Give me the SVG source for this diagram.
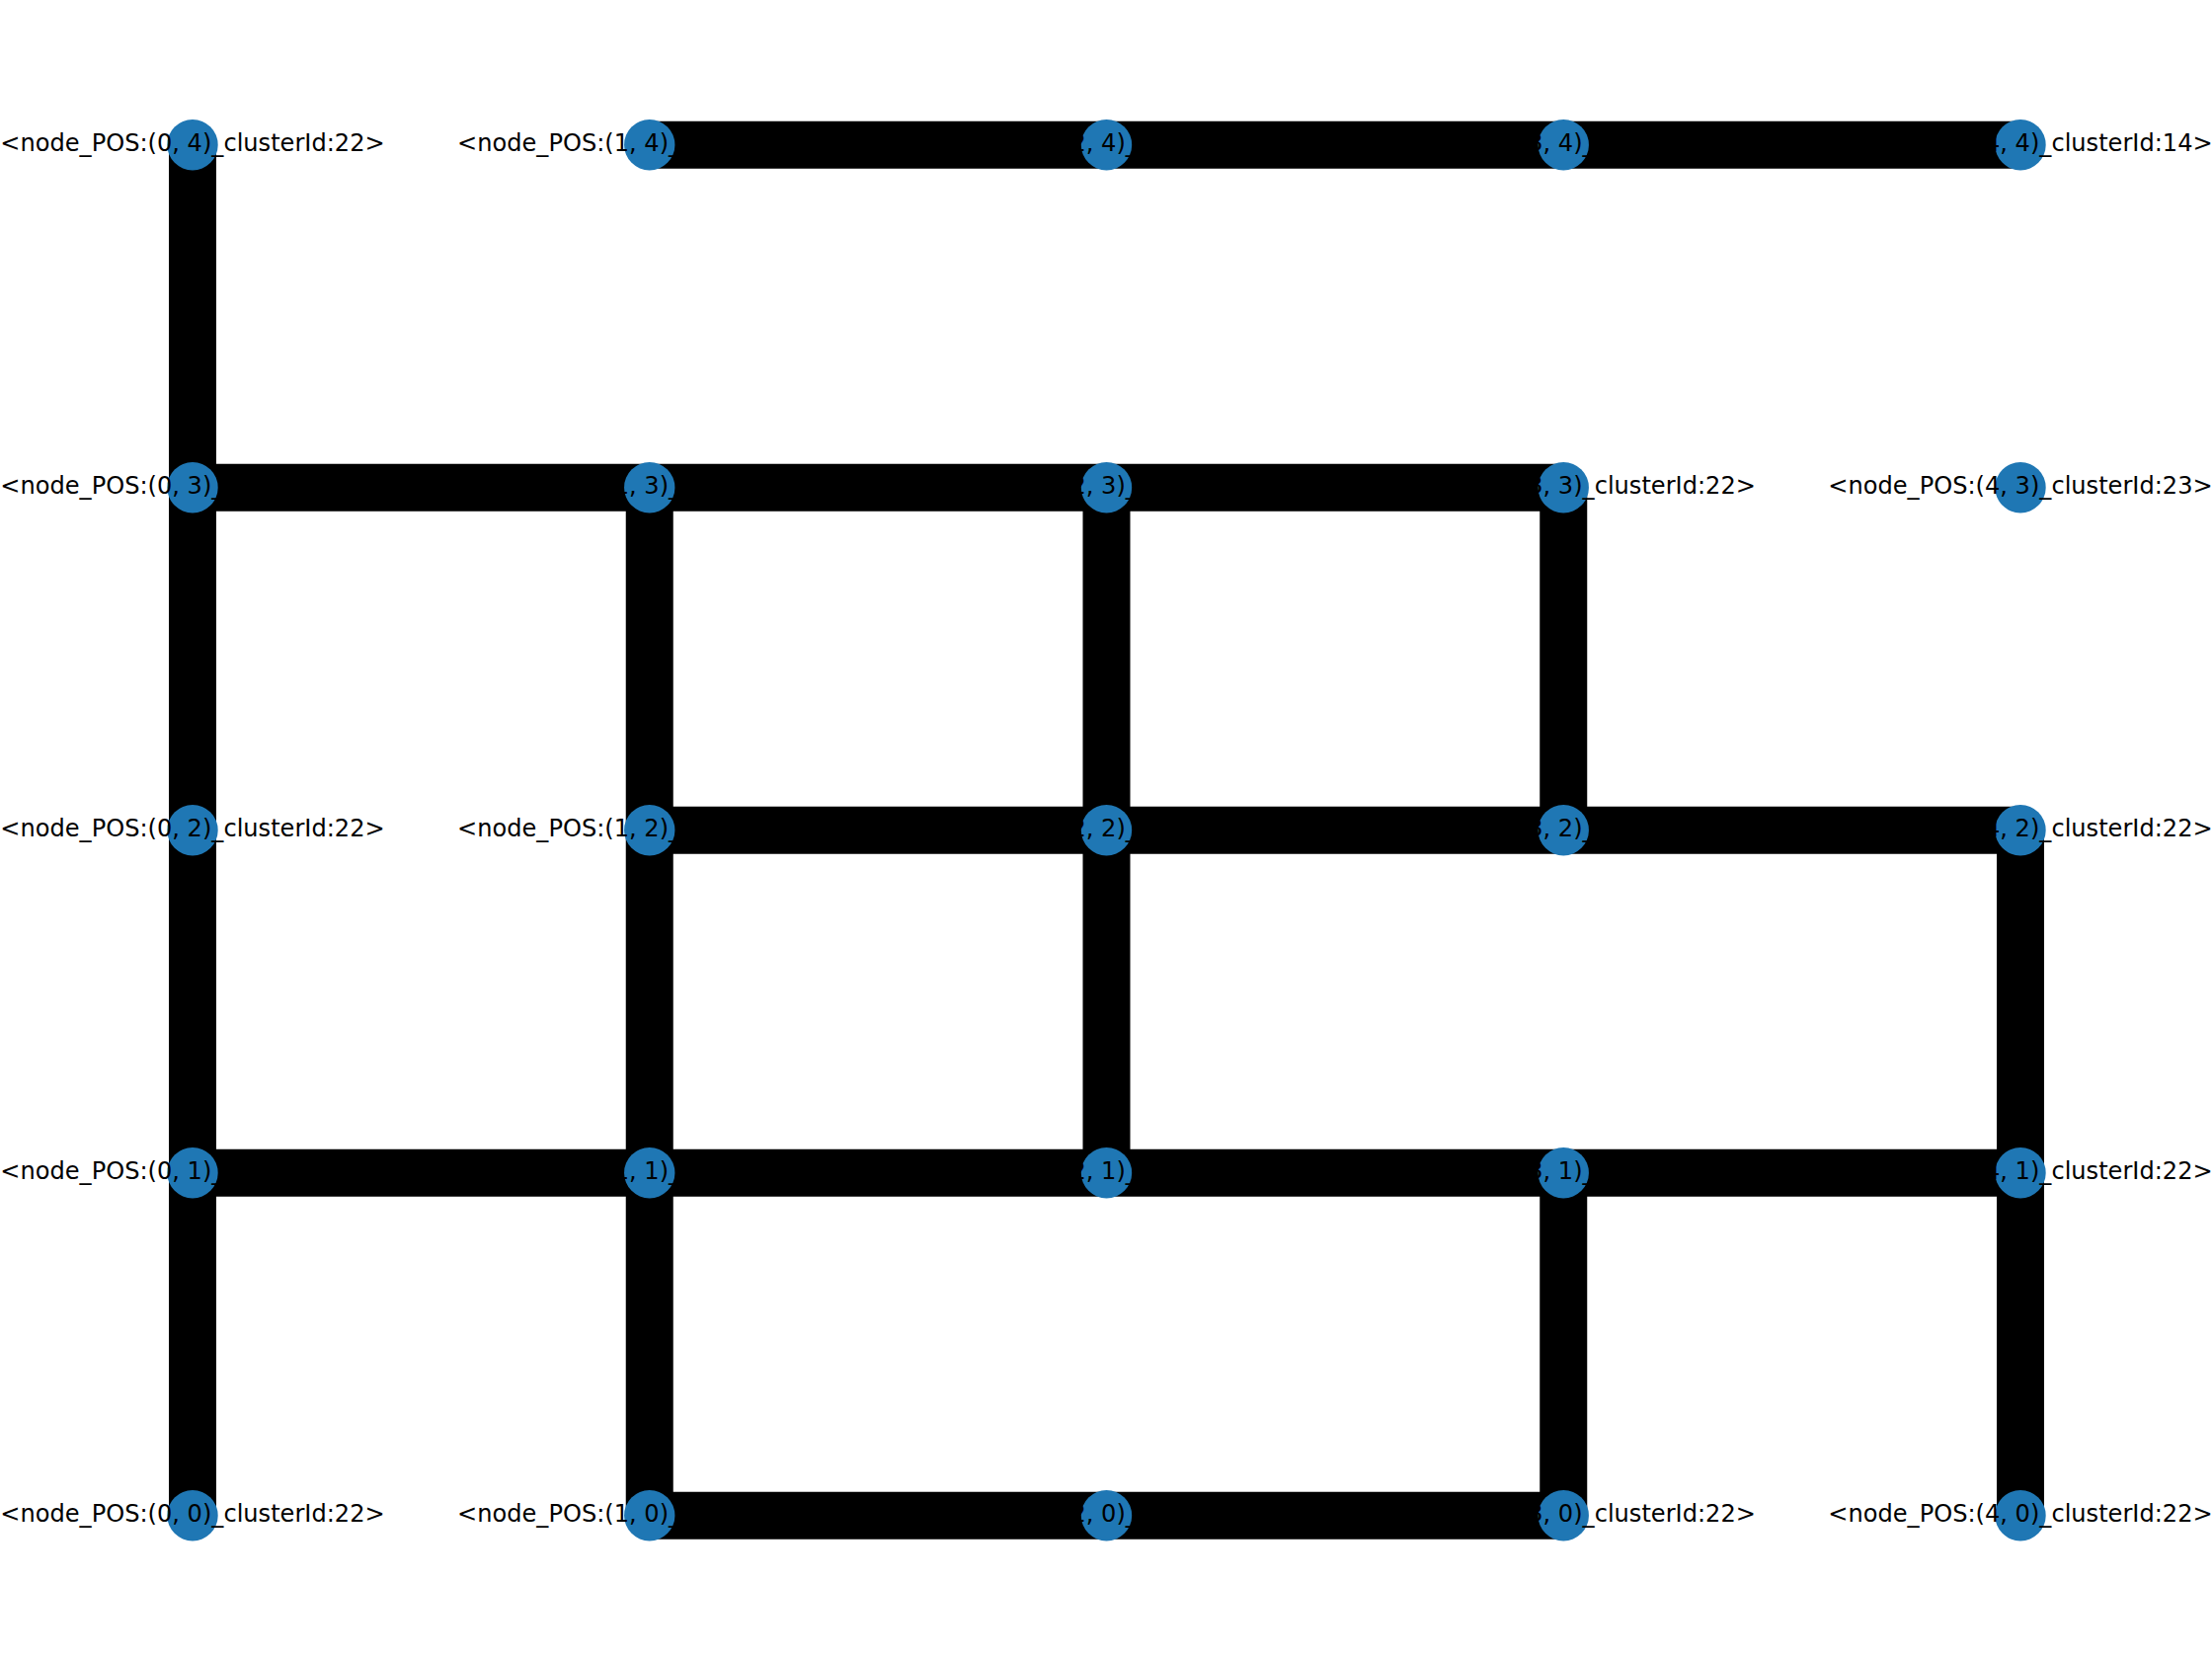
<svg xmlns="http://www.w3.org/2000/svg" width="2240" height="1680" viewBox="0 0 2240 1680">
<style>
.e{stroke:#000;stroke-width:48;stroke-linecap:butt;fill:none}
.n{fill:#1f77b4}
.t{font-family:"DejaVu Sans","Liberation Sans",sans-serif;font-size:24.1px;fill:#000;text-anchor:middle}
</style>
<rect width="2240" height="1680" fill="#fff"/>
<g id="connectors">
<line class="e" x1="657.75" y1="146.7" x2="1120.5" y2="146.7"/>
<line class="e" x1="1120.5" y1="146.7" x2="1583.25" y2="146.7"/>
<line class="e" x1="1583.25" y1="146.7" x2="2046" y2="146.7"/>
<line class="e" x1="195" y1="493.7" x2="657.75" y2="493.7"/>
<line class="e" x1="657.75" y1="493.7" x2="1120.5" y2="493.7"/>
<line class="e" x1="1120.5" y1="493.7" x2="1583.25" y2="493.7"/>
<line class="e" x1="657.75" y1="840.7" x2="1120.5" y2="840.7"/>
<line class="e" x1="1120.5" y1="840.7" x2="1583.25" y2="840.7"/>
<line class="e" x1="1583.25" y1="840.7" x2="2046" y2="840.7"/>
<line class="e" x1="195" y1="1187.7" x2="657.75" y2="1187.7"/>
<line class="e" x1="657.75" y1="1187.7" x2="1120.5" y2="1187.7"/>
<line class="e" x1="1120.5" y1="1187.7" x2="1583.25" y2="1187.7"/>
<line class="e" x1="1583.25" y1="1187.7" x2="2046" y2="1187.7"/>
<line class="e" x1="657.75" y1="1534.7" x2="1120.5" y2="1534.7"/>
<line class="e" x1="1120.5" y1="1534.7" x2="1583.25" y2="1534.7"/>
<line class="e" x1="195" y1="146.7" x2="195" y2="493.7"/>
<line class="e" x1="195" y1="493.7" x2="195" y2="840.7"/>
<line class="e" x1="195" y1="840.7" x2="195" y2="1187.7"/>
<line class="e" x1="195" y1="1187.7" x2="195" y2="1534.7"/>
<line class="e" x1="657.75" y1="493.7" x2="657.75" y2="840.7"/>
<line class="e" x1="657.75" y1="840.7" x2="657.75" y2="1187.7"/>
<line class="e" x1="657.75" y1="1187.7" x2="657.75" y2="1534.7"/>
<line class="e" x1="1120.5" y1="493.7" x2="1120.5" y2="840.7"/>
<line class="e" x1="1120.5" y1="840.7" x2="1120.5" y2="1187.7"/>
<line class="e" x1="1583.25" y1="493.7" x2="1583.25" y2="840.7"/>
<line class="e" x1="1583.25" y1="1187.7" x2="1583.25" y2="1534.7"/>
<line class="e" x1="2046" y1="840.7" x2="2046" y2="1187.7"/>
<line class="e" x1="2046" y1="1187.7" x2="2046" y2="1534.7"/>
</g>
<g id="node-0-4"><circle class="n" cx="195" cy="146.7" r="25.7"/><text class="t" x="195" y="153.3">&lt;node_POS:(0, 4)_clusterId:22&gt;</text></g>
<g id="node-1-4"><circle class="n" cx="657.75" cy="146.7" r="25.7"/><text class="t" x="657.75" y="153.3">&lt;node_POS:(1, 4)_clusterId:14&gt;</text></g>
<g id="node-2-4"><circle class="n" cx="1120.5" cy="146.7" r="25.7"/><text class="t" x="1120.5" y="153.3">&lt;node_POS:(2, 4)_clusterId:14&gt;</text></g>
<g id="node-3-4"><circle class="n" cx="1583.25" cy="146.7" r="25.7"/><text class="t" x="1583.25" y="153.3">&lt;node_POS:(3, 4)_clusterId:14&gt;</text></g>
<g id="node-4-4"><circle class="n" cx="2046" cy="146.7" r="25.7"/><text class="t" x="2046" y="153.3">&lt;node_POS:(4, 4)_clusterId:14&gt;</text></g>
<g id="node-0-3"><circle class="n" cx="195" cy="493.7" r="25.7"/><text class="t" x="195" y="500.3">&lt;node_POS:(0, 3)_clusterId:22&gt;</text></g>
<g id="node-1-3"><circle class="n" cx="657.75" cy="493.7" r="25.7"/><text class="t" x="657.75" y="500.3">&lt;node_POS:(1, 3)_clusterId:22&gt;</text></g>
<g id="node-2-3"><circle class="n" cx="1120.5" cy="493.7" r="25.7"/><text class="t" x="1120.5" y="500.3">&lt;node_POS:(2, 3)_clusterId:22&gt;</text></g>
<g id="node-3-3"><circle class="n" cx="1583.25" cy="493.7" r="25.7"/><text class="t" x="1583.25" y="500.3">&lt;node_POS:(3, 3)_clusterId:22&gt;</text></g>
<g id="node-4-3"><circle class="n" cx="2046" cy="493.7" r="25.7"/><text class="t" x="2046" y="500.3">&lt;node_POS:(4, 3)_clusterId:23&gt;</text></g>
<g id="node-0-2"><circle class="n" cx="195" cy="840.7" r="25.7"/><text class="t" x="195" y="847.3">&lt;node_POS:(0, 2)_clusterId:22&gt;</text></g>
<g id="node-1-2"><circle class="n" cx="657.75" cy="840.7" r="25.7"/><text class="t" x="657.75" y="847.3">&lt;node_POS:(1, 2)_clusterId:22&gt;</text></g>
<g id="node-2-2"><circle class="n" cx="1120.5" cy="840.7" r="25.7"/><text class="t" x="1120.5" y="847.3">&lt;node_POS:(2, 2)_clusterId:22&gt;</text></g>
<g id="node-3-2"><circle class="n" cx="1583.25" cy="840.7" r="25.7"/><text class="t" x="1583.25" y="847.3">&lt;node_POS:(3, 2)_clusterId:22&gt;</text></g>
<g id="node-4-2"><circle class="n" cx="2046" cy="840.7" r="25.7"/><text class="t" x="2046" y="847.3">&lt;node_POS:(4, 2)_clusterId:22&gt;</text></g>
<g id="node-0-1"><circle class="n" cx="195" cy="1187.7" r="25.7"/><text class="t" x="195" y="1194.3">&lt;node_POS:(0, 1)_clusterId:22&gt;</text></g>
<g id="node-1-1"><circle class="n" cx="657.75" cy="1187.7" r="25.7"/><text class="t" x="657.75" y="1194.3">&lt;node_POS:(1, 1)_clusterId:22&gt;</text></g>
<g id="node-2-1"><circle class="n" cx="1120.5" cy="1187.7" r="25.7"/><text class="t" x="1120.5" y="1194.3">&lt;node_POS:(2, 1)_clusterId:22&gt;</text></g>
<g id="node-3-1"><circle class="n" cx="1583.25" cy="1187.7" r="25.7"/><text class="t" x="1583.25" y="1194.3">&lt;node_POS:(3, 1)_clusterId:22&gt;</text></g>
<g id="node-4-1"><circle class="n" cx="2046" cy="1187.7" r="25.7"/><text class="t" x="2046" y="1194.3">&lt;node_POS:(4, 1)_clusterId:22&gt;</text></g>
<g id="node-0-0"><circle class="n" cx="195" cy="1534.7" r="25.7"/><text class="t" x="195" y="1541.3">&lt;node_POS:(0, 0)_clusterId:22&gt;</text></g>
<g id="node-1-0"><circle class="n" cx="657.75" cy="1534.7" r="25.7"/><text class="t" x="657.75" y="1541.3">&lt;node_POS:(1, 0)_clusterId:22&gt;</text></g>
<g id="node-2-0"><circle class="n" cx="1120.5" cy="1534.7" r="25.7"/><text class="t" x="1120.5" y="1541.3">&lt;node_POS:(2, 0)_clusterId:22&gt;</text></g>
<g id="node-3-0"><circle class="n" cx="1583.25" cy="1534.7" r="25.7"/><text class="t" x="1583.25" y="1541.3">&lt;node_POS:(3, 0)_clusterId:22&gt;</text></g>
<g id="node-4-0"><circle class="n" cx="2046" cy="1534.7" r="25.7"/><text class="t" x="2046" y="1541.3">&lt;node_POS:(4, 0)_clusterId:22&gt;</text></g>
</svg>
